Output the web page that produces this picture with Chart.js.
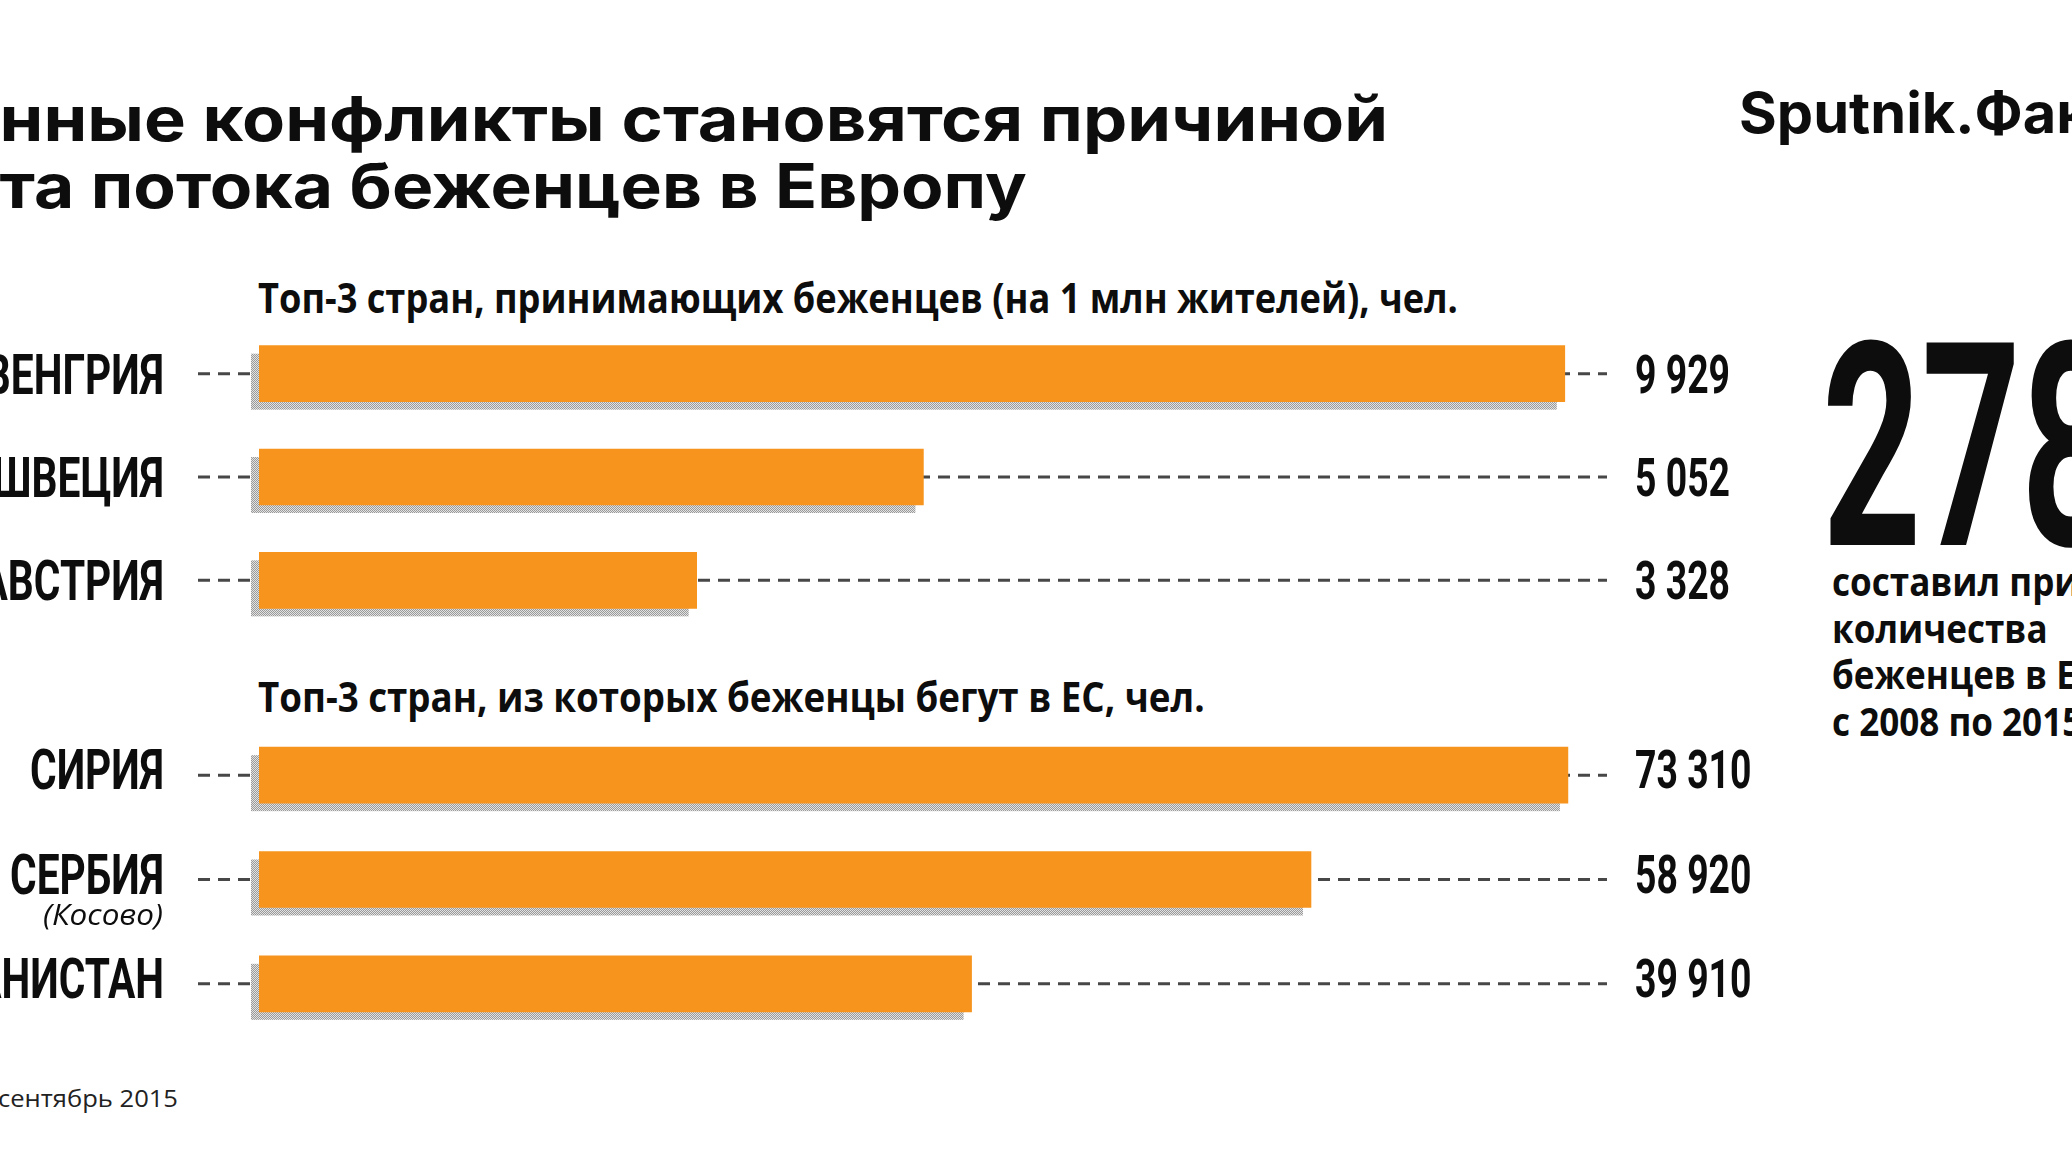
<!DOCTYPE html>
<html lang="ru">
<head>
<meta charset="utf-8">
<title>Беженцы в Европе</title>
<script src="https://cdn.jsdelivr.net/npm/chart.js@4.4.1/dist/chart.umd.min.js"></script>
<style>
  html, body { margin: 0; padding: 0; width: 2072px; height: 1171px; overflow: hidden; background: #fff; }
  .t { position: absolute; left: 0; white-space: nowrap; color: #0d0d0d; line-height: 1; transform-origin: 0 0; }
  .title { font-family: Inter, sans-serif; font-weight: 700; font-size: 62px; }
  .brand { font-family: Inter, sans-serif; font-weight: 700; font-size: 56px; top: 85px; }
  .sub { font-family: "Open Sans", sans-serif; font-weight: 700; font-size: 42px; }
  .note { font-family: "Open Sans", sans-serif; font-weight: 400; font-size: 24px; top: 1086px; color: #222; }
  .big { font-family: Roboto, sans-serif; font-weight: 700; font-size: 285px; top: 306px; }
  .side { font-family: "Open Sans", sans-serif; font-weight: 700; font-size: 40px; line-height: 46.7px; top: 558px; }
  canvas { position: absolute; left: 0; }
</style>
</head>
<body>
<div class="t title" id="title1" style="top:88px"><span>Вооруже</span><span class="ref">нные конфликты становятся причиной</span></div>
<div class="t title" id="title2" style="top:155px"><span>рос</span><span class="ref">та потока беженцев в Европу</span></div>
<div class="t brand" id="brand"><span class="ref">Sputnik.</span>Факты</div>

<div class="t sub" id="sub1" style="top:276px"><span class="ref">Топ-3 стран, принимающих беженцев (на 1 млн жителей), чел.</span></div>
<div class="t sub" id="sub2" style="top:675px"><span class="ref">Топ-3 стран, из которых беженцы бегут в ЕС, чел.</span></div>

<div class="t big" id="big"><span class="ref">27</span>8</div>
<div class="t side" id="side"><span class="ref">составил при</span>рост<br>количества<br>беженцев в ЕС<br>с 2008 по 2015</div>

<div class="t note" id="note"><span class="ref">сентябрь 2015</span></div>

<canvas id="hostChart" width="1800" height="322" style="top:318px"></canvas>
<canvas id="originChart" width="1800" height="326" style="top:719px"></canvas>

<script>
// Top-3 countries receiving refugees (per 1 mln inhabitants)
const hostCountries = ['ВЕНГРИЯ', 'ШВЕЦИЯ', 'АВСТРИЯ'];
const hostValues = [9929, 5052, 3328];
const hostMax = 10250;

// Top-3 countries refugees flee from to the EU
const originCountries = ['СИРИЯ', 'СЕРБИЯ', 'АФГАНИСТАН'];
const originNotes = ['', '(Косово)', ''];
const originValues = [73310, 58920, 39910];
const originMax = 75500;

const barColor = '#f7941d';
const textColor = '#0d0d0d';

// 9929 -> "9 929"
function fmt(v) {
  return String(v).replace(/\B(?=(\d{3})+(?!\d))/g, ' ');
}

// little grey checker used for the bar shadows
function shadowPattern(ctx) {
  const c = document.createElement('canvas');
  c.width = 2; c.height = 2;
  const p = c.getContext('2d');
  p.fillStyle = '#e2e2e2'; p.fillRect(0, 0, 2, 2);
  p.fillStyle = '#9a9a9a'; p.fillRect(0, 0, 1, 1); p.fillRect(1, 1, 1, 1);
  return ctx.createPattern(c, 'repeat');
}

// draw text squeezed horizontally (the original uses a condensed face)
function squeezed(ctx, text, x, y, k) {
  ctx.save();
  ctx.translate(x, y);
  ctx.scale(k, 1);
  ctx.fillText(text, 0, 0);
  ctx.restore();
}

const barDecor = {
  id: 'barDecor',
  beforeDatasetsDraw(chart) {
    const ctx = chart.ctx;
    const area = chart.chartArea;
    const bars = chart.getDatasetMeta(0).data;
    ctx.save();
    // dashed leader lines behind each bar
    ctx.strokeStyle = '#474747';
    ctx.lineWidth = 3;
    ctx.setLineDash([12, 8]);
    bars.forEach(b => {
      ctx.beginPath();
      ctx.moveTo(area.left - 61, b.y);
      ctx.lineTo(area.right, b.y);
      ctx.stroke();
    });
    // dotted shadow, shifted down-left
    ctx.fillStyle = shadowPattern(ctx);
    bars.forEach(b => {
      ctx.fillRect(b.base - 8, b.y - b.height / 2 + 8, b.x - b.base, b.height);
    });
    ctx.restore();
  },
  afterDatasetsDraw(chart, args, opts) {
    const ctx = chart.ctx;
    const area = chart.chartArea;
    const bars = chart.getDatasetMeta(0).data;
    const values = chart.data.datasets[0].data;
    const dy = opts.textShift || 0;
    ctx.save();
    ctx.fillStyle = textColor;

    ctx.font = 'bold 56px Roboto';
    const kName = 134 / ctx.measureText('СИРИЯ').width;
    ctx.font = 'bold 53px Roboto';
    const kVal = 95 / ctx.measureText('9 929').width;
    ctx.font = 'italic 30px "Open Sans"';
    const kNote = 120 / ctx.measureText('(Косово)').width;

    bars.forEach((b, i) => {
      ctx.textAlign = 'right';
      ctx.font = 'bold 56px Roboto';
      squeezed(ctx, chart.data.labels[i], area.left - 95, b.y + 20 + dy, kName);
      if (opts.notes && opts.notes[i]) {
        ctx.font = 'italic 30px "Open Sans"';
        squeezed(ctx, opts.notes[i], area.left - 96, b.y + 51 + dy, kNote);
      }
      ctx.textAlign = 'left';
      ctx.font = 'bold 53px Roboto';
      squeezed(ctx, fmt(values[i]), area.right + 28, b.y + 19 + dy, kVal);
    });
    ctx.restore();
  }
};

function createChart(canvasId, labels, data, xMax, notes, textShift, padding) {
  const ctx = document.getElementById(canvasId).getContext('2d');
  return new Chart(ctx, {
    type: 'bar',
    data: {
      labels: labels,
      datasets: [{
        data: data,
        backgroundColor: barColor,
        borderWidth: 0,
        barThickness: 56
      }]
    },
    options: {
      indexAxis: 'y',
      responsive: false,
      animation: false,
      layout: { padding: padding },
      scales: {
        x: { display: false, min: 0, max: xMax },
        y: { display: false }
      },
      plugins: {
        legend: { display: false },
        tooltip: { enabled: false },
        barDecor: { notes: notes, textShift: textShift }
      }
    },
    plugins: [barDecor]
  });
}

createChart('hostChart', hostCountries, hostValues, hostMax, null, 0,
  { left: 259, right: 193, top: 4, bottom: 8 });
createChart('originChart', originCountries, originValues, originMax, originNotes, -6,
  { left: 259, right: 193, top: 4, bottom: 9 });

// squeeze/stretch html text so the marked part spans the wanted width
function fit(id, x, target) {
  const el = document.getElementById(id);
  const ref = el.querySelector('.ref');
  const s = target / ref.offsetWidth;
  el.style.transform = `translateX(${x - ref.offsetLeft * s}px) scaleX(${s})`;
}

function layoutText() {
  fit('title1', 0, 1388);
  fit('title2', 0, 1027);
  fit('brand', 1739, 236);
  fit('sub1', 258, 1200);
  fit('sub2', 258, 947);
  fit('big', 1822, 199);
  fit('side', 1832, 248);
  fit('note', -2, 180);
}
layoutText();
document.fonts.ready.then(layoutText);
</script>
</body>
</html>
